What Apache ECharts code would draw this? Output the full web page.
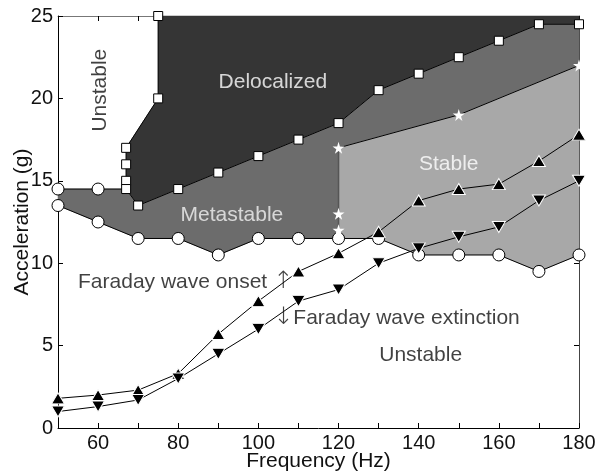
<!DOCTYPE html>
<html><head><meta charset="utf-8">
<script src="https://cdn.jsdelivr.net/npm/echarts@6/dist/echarts.min.js"></script>
<style>html,body{margin:0;padding:0;background:#fff}#c{width:597px;height:476px}</style>
</head><body><div id="c"></div>
<script>
// ---- data ----
const freq = [50,60,70,80,90,100,110,120,130,140,150,160,170,180];
const onsetAcc = [1.8,2.0,2.3,3.3,5.7,7.7,9.5,10.6,11.9,13.8,14.5,14.8,16.2,17.8];
const extinctionAcc = [1.0,1.3,1.7,3.0,4.5,6.0,7.7,8.4,10.0,10.9,11.6,12.2,13.8,15.0];
const lowerCircleAcc = [13.5,12.5,11.5,11.5,10.5,11.5,11.5,11.5,11.5,10.5,10.5,10.5,9.5,10.5];
const upperCircleFreq = [50,60];
const upperCircleAcc = [14.5,14.5];
const squareFreq = [75,75,67,67,67,67,70,80,90,100,110,120,130,140,150,160,170,180];
const squareAcc = [25,20,17,16,15,14.5,13.5,14.5,15.5,16.5,17.5,18.5,20.5,21.5,22.5,23.5,24.5,24.5];
const starFreq = [120,120,120,150,180];
const starAcc = [17,13,12,19,22];
const xTicks = [60,80,100,120,140,160,180];
const yTicks = [0,5,10,15,20,25];
const regionLabels = [
  {text:'Unstable', pos:[60.5,20.5], color:'#111', rotate:90, align:'center'},
  {text:'Delocalized', pos:[103.6,21.0], color:'#fff', rotate:0, align:'center'},
  {text:'Metastable', pos:[93.4,12.9], color:'#f2f2f2', rotate:0, align:'center'},
  {text:'Stable', pos:[147.5,16.0], color:'#fff', rotate:0, align:'center'},
  {text:'Faraday wave onset {a|\u2191}', pos:[55.0,8.85], color:'#111', rotate:0, align:'left'},
  {text:'{a|\u2193}Faraday wave extinction', pos:[103.7,6.66], color:'#111', rotate:0, align:'left'},
  {text:'Unstable', pos:[140.5,4.41], color:'#111', rotate:0, align:'center'}
];

// ---- derived geometry ----
const zip = (xs, ys) => xs.map((x,i)=>[x, ys[i]]);
const squares = zip(squareFreq, squareAcc);
const lowerCircles = zip(freq, lowerCircleAcc);
const upperCircles = zip(upperCircleFreq, upperCircleAcc);
const stars = zip(starFreq, starAcc);
const starUpper = stars.filter(p => p[1] >= 17);
const i120 = freq.indexOf(120);

const darkPoly = squares.concat([[180,25]]);
const metaPoly = upperCircles
  .concat(squares.slice(5))
  .concat(starUpper.slice().reverse())
  .concat(lowerCircles.slice(0, i120 + 1).reverse());
const stablePoly = starUpper.concat(lowerCircles.slice(i120).reverse());

function polySeries(poly, color) {
  return {
    type:'custom', silent:true, z:1,
    data: poly,
    renderItem: function(params, api) {
      if (params.dataIndex !== 0) return null;
      return {
        type:'polygon',
        shape:{points: poly.map(p => api.coord(p))},
        style:{fill: color, stroke: color, lineWidth: 0.5}
      };
    }
  };
}
function lineSeries(pts, color, width) {
  return {type:'line', data: pts, showSymbol:false, symbol:'none', silent:true, z:3,
          lineStyle:{color: color, width: width}};
}
function markSeries(pts, symbol, size, fill, border, rotate) {
  return {type:'scatter', data: pts, symbol: symbol, symbolSize: size, symbolRotate: rotate || 0,
          silent:true, z:5,
          itemStyle:{color: fill, borderColor: border, borderWidth: border === 'none' ? 0 : 1, opacity:1}};
}
const starPath = 'path://M50,0 L61,35 L98,35 L68,57 L79,91 L50,70 L21,91 L32,57 L2,35 L39,35 Z';
const font = '"Liberation Sans", Arial, Helvetica, sans-serif';

const series = [
  polySeries(darkPoly, '#353535'),
  polySeries(metaPoly, '#6c6c6c'),
  polySeries(stablePoly, '#a8a8a8'),
  lineSeries(squares, '#000', 1),
  lineSeries(upperCircles.concat([squares[5]]), '#000', 1),
  lineSeries(lowerCircles, '#000', 1),
  lineSeries(starUpper, '#000', 1),
  lineSeries([starUpper[0], lowerCircles[i120]], '#555', 1.5),
  lineSeries(zip(freq, onsetAcc), '#000', 1),
  lineSeries(zip(freq, extinctionAcc), '#000', 1),
  markSeries(squares, 'rect', 9, '#fff', '#000'),
  markSeries(upperCircles.concat(lowerCircles), 'circle', 12, '#fff', '#000'),
  markSeries(stars, starPath, 12, '#fff', 'none'),
  markSeries(zip(freq, onsetAcc), 'triangle', [13,11], '#000', '#fff'),
  markSeries(zip(freq, extinctionAcc), 'triangle', [13,11], '#000', '#fff', 180),
  {
    type:'scatter', silent:true, z:10, symbolSize:0,
    data: regionLabels.map(l => ({
      value: l.pos,
      label:{show:true, formatter:l.text, color:l.color, rotate:l.rotate,
             position:'inside', align:l.align, verticalAlign:'middle', distance:0,
             fontFamily:font, fontSize:21,
             rich:{a:{fontFamily:'"DejaVu Sans", sans-serif', fontSize:24, fontWeight:200, color:'#111'}}}
    }))
  }
];

const axisCommon = {
  axisTick:{show:true, inside:true, length:5, lineStyle:{color:'#000'}},
  splitLine:{show:false}
};
const option = {
  animation:false,
  backgroundColor:'#fff',
  grid:{left:58, right:18, top:16, bottom:48, containLabel:false, outerBoundsMode:'none'},
  xAxis:[
    Object.assign({}, axisCommon, {
      type:'value', min:50, max:180, interval:10, position:'bottom',
      name:'Frequency (Hz)', nameLocation:'middle', nameGap:23, nameMoveOverlap:false,
      nameTextStyle:{fontFamily:font, fontSize:21, color:'#111'},
      axisLine:{show:true, onZero:false, lineStyle:{color:'#000', width:1}},
      axisLabel:{margin:5, fontFamily:font, fontSize:20, color:'#111',
                 formatter: v => xTicks.indexOf(v) >= 0 ? String(v) : ''}
    }),
    Object.assign({}, axisCommon, {
      type:'value', min:50, max:180, interval:10, position:'top',
      axisLine:{show:true, onZero:false, lineStyle:{color:'#777', width:1}},
      axisLabel:{show:false}
    })
  ],
  yAxis:[
    Object.assign({}, axisCommon, {
      type:'value', min:0, max:25, interval:5, position:'left',
      name:'Acceleration (g)', nameLocation:'middle', nameGap:25, nameMoveOverlap:false,
      nameTextStyle:{fontFamily:font, fontSize:21, color:'#111'},
      axisLine:{show:true, onZero:false, lineStyle:{color:'#000', width:1}},
      axisLabel:{margin:5, fontFamily:font, fontSize:20, color:'#111',
                 formatter: v => yTicks.indexOf(v) >= 0 ? String(v) : ''}
    }),
    Object.assign({}, axisCommon, {
      type:'value', min:0, max:25, interval:5, position:'right',
      axisLine:{show:true, onZero:false, lineStyle:{color:'#444', width:1}},
      axisLabel:{show:false}
    })
  ],
  series: series
};
const chart = echarts.init(document.getElementById('c'), null, {renderer:'canvas'});
chart.setOption(option);
</script>
</body></html>
